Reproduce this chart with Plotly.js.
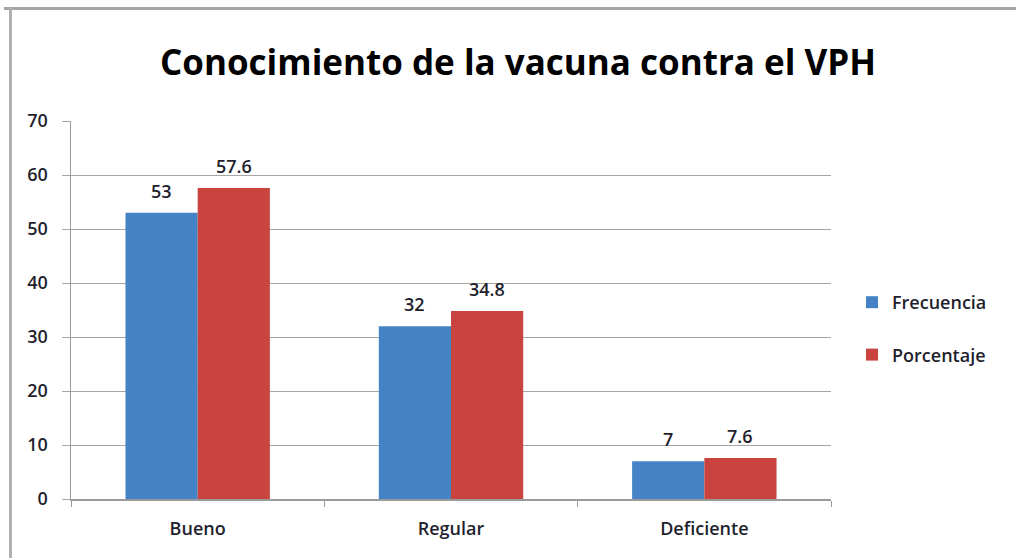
<!DOCTYPE html>
<html>
<head>
<meta charset="utf-8">
<script src="https://cdn.plot.ly/plotly-3.0.1.min.js"></script>
<style>html,body{margin:0;padding:0;background:#fff;}#chart{width:1016px;height:558px;}</style>
</head>
<body>
<div id="chart"></div>
<script>
const categories = ["Bueno", "Regular", "Deficiente"];
const frecuencia = [53, 32, 7];
const porcentaje = [57.6, 34.8, 7.6];
const yTicks = [0, 10, 20, 30, 40, 50, 60, 70];

const FONT = "'Open Sans', Lato, sans-serif";
const txtColor = "#1f1f2e";

const traces = [
  {
    type: "bar", name: "Frecuencia", x: categories, y: frecuencia,
    marker: {color: "#4583c6"}, legendgroup: "a"
  },
  {
    type: "bar", name: "Porcentaje", x: categories, y: porcentaje,
    marker: {color: "#c9443f"}, legendgroup: "b"
  }
];

const L = 71, R = 831, T = 121, B = 499;
const px = p => (p - L) / (R - L);
const py = p => (B - p) / (B - T);

const bargap = 0.43;
const barPx = (R - L) / categories.length * (1 - bargap) / 2;

const labelAnn = (vals, sign) => vals.map((v, i) => ({
  xref: "x", yref: "y", x: categories[i], y: v,
  text: String(v), showarrow: false,
  xanchor: "center", yanchor: "bottom",
  xshift: sign * barPx / 2, yshift: 8,
  font: {family: FONT, size: 18, color: txtColor, weight: 600}
}));

const layout = {
  width: 1016, height: 558,
  margin: {l: L, r: 1016 - R, t: T, b: 558 - B},
  paper_bgcolor: "#ffffff", plot_bgcolor: "#ffffff",
  font: {family: FONT, color: txtColor, size: 17},
  title: {
    text: "<b>Conocimiento de la vacuna contra el VPH</b>",
    font: {family: FONT, size: 35, color: "#000"},
    xref: "container", x: 518 / 1016, xanchor: "center",
    yref: "container", y: 1 - 63 / 558, yanchor: "middle"
  },
  barmode: "group", bargap: bargap, bargroupgap: 0,
  xaxis: {
    type: "category", showgrid: false, showline: true, linecolor: "#9a9a9a", linewidth: 1.5,
    ticks: "outside", tickson: "boundaries", ticklen: 6, tickcolor: "#9a9a9a",
    tickfont: {family: FONT, size: 18, color: txtColor, weight: 600}, ticklabelstandoff: 13
  },
  yaxis: {
    range: [0, 70], tickvals: yTicks, ticktext: yTicks.map(String),
    showgrid: true, gridcolor: "#a6a6a6", gridwidth: 1,
    showline: true, linecolor: "#9a9a9a", linewidth: 1.5,
    ticks: "outside", ticklen: 8, tickcolor: "#a6a6a6",
    tickfont: {family: FONT, size: 18, color: txtColor, weight: 600}, ticklabelstandoff: 10,
    zeroline: false
  },
  showlegend: true,
  legend: {
    x: px(852), xanchor: "left", y: py(284), yanchor: "top",
    traceorder: "grouped", tracegroupgap: 26,
    font: {family: FONT, size: 18, color: txtColor, weight: 600},
    itemwidth: 30, bgcolor: "rgba(0,0,0,0)"
  },
  annotations: labelAnn(frecuencia, -1).concat(labelAnn(porcentaje, 1)),
  shapes: [
    {type: "line", xref: "paper", yref: "paper", x0: px(4), x1: px(1016), y0: py(8.5), y1: py(8.5),
     line: {color: "#a4a4a4", width: 3}},
    {type: "line", xref: "paper", yref: "paper", x0: px(10.5), x1: px(10.5), y0: py(8), y1: py(560),
     line: {color: "#b0b0b0", width: 3}}
  ]
};

Plotly.newPlot("chart", traces, layout, {displayModeBar: false, staticPlot: true});
</script>
</body>
</html>
